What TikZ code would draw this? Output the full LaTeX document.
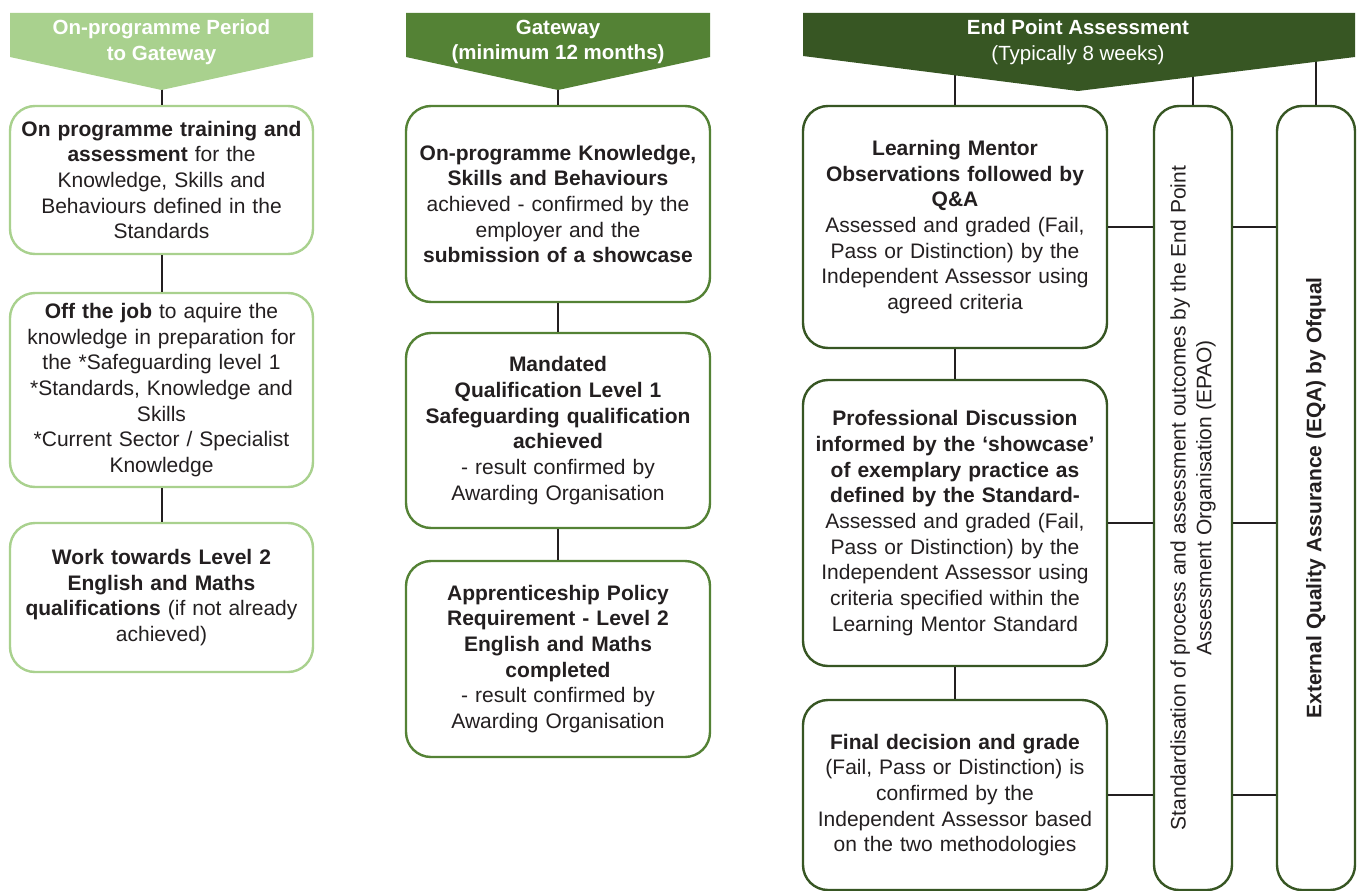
\documentclass[tikz,border=0pt]{standalone}
\usepackage{fontspec}
\setmainfont{Liberation Sans}
\definecolor{lightg}{HTML}{A9D18E}
\definecolor{midg}{HTML}{548235}
\definecolor{darkg}{HTML}{375623}
\definecolor{txt}{HTML}{231F20}
\begin{document}
\begin{tikzpicture}[x=1pt,y=-1pt,
  every node/.style={font=\fontsize{21}{25.7}\selectfont, text=txt},
  box/.style={draw, line width=2.4pt, rounded corners=25pt, fill=white, align=center, inner sep=0pt},
  c1box/.style={box, draw=lightg, minimum width=303pt, text width=298pt},
  c2box/.style={box, draw=midg, minimum width=304pt, text width=298pt},
  c3box/.style={box, draw=darkg, minimum width=304pt, text width=298pt},
  tallbox/.style={box, draw=darkg, minimum width=78pt, minimum height=784pt},
  link/.style={draw=txt, line width=2pt},
  htext/.style={text=white, align=center, font=\fontsize{20.5}{25.7}\selectfont}
]
\useasboundingbox (0,0) rectangle (1357,891);
\fill[white] (0,0) rectangle (1357,891);

% boxes
\node[c1box, minimum height=148pt] (b11) at (161.5,180) {\textbf{On programme training and}\\\textbf{assessment} for the\\Knowledge, Skills and\\Behaviours defined in the\\Standards};
\node[c1box, minimum height=194pt] (b12) at (161.5,390) {\textbf{Off the job} to aquire the\\knowledge in preparation for\\the *Safeguarding level 1\\{}*Standards, Knowledge and\\Skills\\{}*Current Sector / Specialist\\Knowledge};
\node[c1box, minimum height=149pt] (b13) at (161.5,597.5) {\textbf{Work towards Level 2}\\\textbf{English and Maths}\\\textbf{qualifications} (if not already\\achieved)};

\node[c2box, minimum height=196pt] (b21) at (558,204) {\textbf{On-programme Knowledge,}\\\textbf{Skills and Behaviours}\\achieved - confirmed by the\\employer and the\\\textbf{submission of a showcase}};
\node[c2box, minimum height=195pt] (b22) at (558,430.5) {\textbf{Mandated}\\\textbf{Qualification Level 1}\\\textbf{Safeguarding qualification}\\\textbf{achieved}\\- result confirmed by\\Awarding Organisation};
\node[c2box, minimum height=196pt] (b23) at (558,659) {\textbf{Apprenticeship Policy}\\\textbf{Requirement - Level 2}\\\textbf{English and Maths}\\\textbf{completed}\\- result confirmed by\\Awarding Organisation};

\node[c3box, minimum height=242pt] (b31) at (955,227) {\textbf{Learning Mentor}\\\textbf{Observations followed by}\\\textbf{Q\&A}\\Assessed and graded (Fail,\\Pass or Distinction) by the\\Independent Assessor using\\agreed criteria\\[8pt]};
\node[c3box, minimum height=286pt] (b32) at (955,523) {\textbf{Professional Discussion}\\\textbf{informed by the ‘showcase’}\\\textbf{of exemplary practice as}\\\textbf{defined by the Standard-}\\Assessed and graded (Fail,\\Pass or Distinction) by the\\Independent Assessor using\\criteria specified within the\\Learning Mentor Standard};
\node[c3box, minimum height=190pt] (b33) at (955,795) {\textbf{Final decision and grade}\\(Fail, Pass or Distinction) is\\confirmed by the\\Independent Assessor based\\on the two methodologies\\[14pt]};

\node[tallbox] (epao) at (1193,498) {};
\node[tallbox] (eqa) at (1316,498) {};
\node[rotate=90, align=center] (epaot) at (epao.center) {Standardisation of process and assessment outcomes by the End Point\\Assessment Organisation (EPAO)};
\node[rotate=90, align=center] (eqat) at (eqa.center) {\textbf{External Quality Assurance (EQA) by Ofqual}};

% vertical connectors
\draw[link] (b11.south) -- (b12.north);
\draw[link] (b12.south) -- (b13.north);
\draw[link] (b21.south) -- (b22.north);
\draw[link] (b22.south) -- (b23.north);
\draw[link] (b31.south) -- (b32.north);
\draw[link] (b32.south) -- (b33.north);
% horizontal connectors
\foreach \b in {b31,b32,b33}{
  \draw[link] (\b.east) -- (\b.east -| epao.west);
  \draw[link] (\b.east -| epao.east) -- (\b.east -| eqa.west);
}
% header connectors (drawn beneath headers)
\coordinate (h1) at (161.5,88);
\coordinate (h2) at (558,88);
\draw[link] (h1) -- (b11.north);
\draw[link] (h2) -- (b21.north);
\draw[link] (b31.north) -- ++(0,-50);
\draw[link] (epao.north) -- ++(0,-50);
\draw[link] (eqa.north) -- ++(0,-50);

% headers
\fill[lightg] (10,13) -- (313,13) -- (313,57) -- (161.5,90) -- (10,57) -- cycle;
\fill[midg] (406,13) -- (710,13) -- (710,57) -- (558,90) -- (406,57) -- cycle;
\fill[darkg] (803,13) -- (1355,13) -- (1355,57) -- (1078,91) -- (803,56) -- cycle;
\node[htext] (t1) at (161.5,42) {\textbf{On-programme Period}\\\textbf{to Gateway}};
\node[htext] (t2) at (558,42) {\textbf{Gateway}\\\textbf{(minimum 12 months)}};
\node[htext] (t3) at (1078,42) {\textbf{End Point Assessment}\\(Typically 8 weeks)};
\end{tikzpicture}
\end{document}
